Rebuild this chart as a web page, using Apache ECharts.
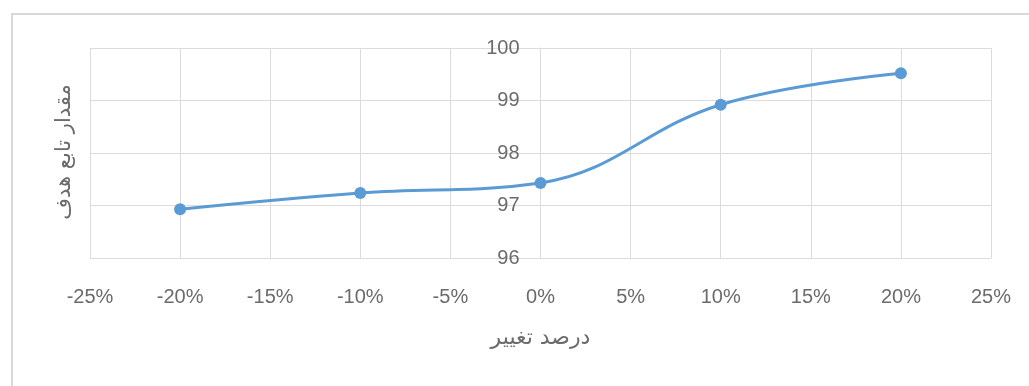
<!DOCTYPE html>
<html>
<head>
<meta charset="utf-8">
<script src="https://cdn.jsdelivr.net/npm/echarts@6/dist/echarts.min.js"></script>
<style>
html,body{margin:0;padding:0;background:#fff;}
#chart{width:1029px;height:386px;}
</style>
</head>
<body>
<div id="chart"></div>
<script>
// Data
const xValues = [-20, -10, 0, 10, 20];            // درصد تغییر (%)
const yValues = [96.93, 97.24, 97.43, 98.92, 99.52]; // مقدار تابع هدف
const xAxisRange = [-25, 25];
const xAxisStep = 5;
const yAxisRange = [96, 100];
const yAxisStep = 1;
const xAxisTitle = 'درصد تغییر';
const yAxisTitle = 'مقدار تابع هدف';

const seriesData = xValues.map((x, i) => [x, yValues[i]]);
const labelColor = '#6b6b6b';
const gridColor = '#dcdcdc';
const numFont = '"Liberation Sans", Arial, sans-serif';
const arFont = '"DejaVu Sans", "Noto Sans", sans-serif';

const gridLeft = 90, gridRight = 38;
const plotWidth = 1029 - gridLeft - gridRight;
// place the y axis at x = 0 (the 0% line)
const yAxisOffset = -plotWidth * (0 - xAxisRange[0]) / (xAxisRange[1] - xAxisRange[0]);

const chart = echarts.init(document.getElementById('chart'));
chart.setOption({
  animation: false,
  backgroundColor: '#ffffff',
  grid: { left: gridLeft, right: gridRight, top: 48, bottom: 128, containLabel: false },
  xAxis: {
    type: 'value',
    min: xAxisRange[0], max: xAxisRange[1], interval: xAxisStep,
    axisLine: { onZero: false, show: true, lineStyle: { color: gridColor, width: 1 } },
    axisTick: { show: false },
    splitLine: { show: true, lineStyle: { color: gridColor, width: 1 } },
    axisLabel: {
      color: labelColor, fontSize: 20, fontFamily: numFont, margin: 29,
      formatter: v => v + '%'
    },
    name: xAxisTitle,
    nameLocation: 'middle',
    nameGap: 69,
    nameTextStyle: { color: labelColor, fontSize: 22, fontFamily: arFont }
  },
  yAxis: {
    type: 'value',
    position: 'left',
    offset: yAxisOffset,
    min: yAxisRange[0], max: yAxisRange[1], interval: yAxisStep,
    axisLine: { onZero: false, show: true, lineStyle: { color: gridColor, width: 1 } },
    axisTick: { show: false },
    splitLine: { show: true, lineStyle: { color: gridColor, width: 1 } },
    axisLabel: { color: labelColor, fontSize: 20, fontFamily: numFont, margin: 21 }
  },
  graphic: [
    {
      type: 'rect', silent: true, z: -10,
      shape: { x: 12, y: 14, width: 1100, height: 500 },
      style: { fill: 'none', stroke: '#d9d9d9', lineWidth: 2 }
    },
    {
      type: 'text', silent: true,
      x: 65, y: 152, rotation: Math.PI / 2,
      style: {
        text: yAxisTitle, fill: labelColor, fontSize: 21, fontFamily: arFont,
        align: 'center', verticalAlign: 'middle'
      }
    }
  ],
  series: [{
    type: 'line',
    data: seriesData,
    smooth: 0.4,
    symbol: 'circle',
    symbolSize: 12,
    lineStyle: { color: '#5B9BD5', width: 3 },
    itemStyle: { color: '#5B9BD5' }
  }]
});
</script>
</body>
</html>
